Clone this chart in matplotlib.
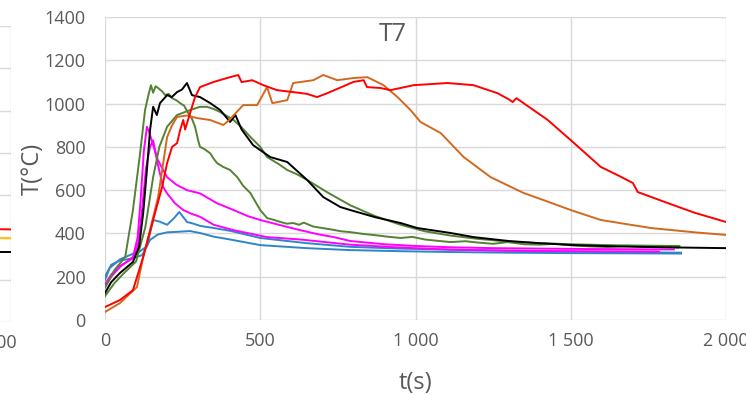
import matplotlib
matplotlib.use('Agg')
import matplotlib.pyplot as plt
from matplotlib.ticker import FuncFormatter

plt.rcParams['font.family'] = ['Open Sans', 'DejaVu Sans']

# thermocouple T7, time in s, temperature in degC
blue_a_t = [0, 15, 48, 80, 113, 135, 155, 175, 200, 222, 239, 255, 264, 285, 306, 350, 403, 500, 650, 790, 950, 1113, 1300, 1500, 1700, 1855]
blue_a_T = [185, 240, 280, 300, 318, 340, 462, 455, 440, 470, 499, 470, 453, 445, 435, 425, 412, 379, 355, 338, 330, 325, 320, 316, 313, 311]

blue_b_t = [0, 20, 48, 90, 120, 145, 170, 200, 240, 274, 306, 350, 403, 500, 650, 790, 950, 1113, 1300, 1500, 1700, 1855]
blue_b_T = [200, 255, 275, 285, 300, 370, 395, 405, 408, 411, 402, 385, 372, 346, 332, 323, 318, 314, 311, 309, 308, 307]

mag_a_t = [0, 20, 48, 90, 105, 115, 125, 135, 142, 150, 170, 200, 230, 264, 306, 360, 414, 460, 500, 560, 629, 690, 737, 790, 900, 1000, 1113, 1250, 1400, 1550, 1700, 1832]
mag_a_T = [152, 200, 245, 291, 380, 560, 780, 893, 870, 831, 740, 660, 625, 600, 585, 540, 508, 480, 462, 440, 415, 395, 383, 365, 350, 342, 336, 332, 330, 328, 327, 326]

mag_b_t = [0, 20, 48, 90, 108, 120, 132, 145, 155, 170, 187, 200, 225, 252, 280, 306, 350, 414, 522, 629, 790, 950, 1113, 1300, 1500, 1650, 1784]
mag_b_T = [165, 210, 250, 285, 360, 520, 700, 800, 830, 720, 615, 585, 540, 508, 490, 477, 440, 415, 383, 372, 348, 335, 325, 320, 318, 317, 316]

black_t = [0, 20, 48, 90, 110, 123, 135, 145, 155, 167, 177, 200, 215, 232, 248, 264, 280, 306, 339, 371, 403, 420, 440, 477, 532, 587, 651, 703, 758, 790, 870, 952, 1006, 1113, 1187, 1300, 1400, 1510, 1650, 1800, 2000]
black_T = [125, 175, 217, 268, 340, 494, 693, 877, 985, 947, 1002, 1039, 1030, 1053, 1065, 1095, 1039, 1030, 1002, 970, 915, 947, 880, 808, 753, 730, 647, 568, 522, 508, 475, 448, 425, 402, 383, 365, 355, 346, 340, 336, 332]

green_a_t = [0, 30, 65, 90, 113, 129, 140, 148, 155, 163, 171, 185, 194, 205, 216, 230, 242, 255, 268, 280, 290, 300, 306, 320, 339, 350, 361, 381, 403, 426, 445, 468, 485, 500, 522, 545, 560, 585, 606, 625, 640, 670, 700, 730, 760, 790, 830, 870, 910, 952, 990, 1030, 1070, 1113, 1160, 1200, 1250, 1297, 1350, 1400, 1450, 1500, 1560, 1619, 1680, 1740, 1800, 1845]
green_a_T = [150, 230, 291, 508, 770, 970, 1040, 1085, 1050, 1080, 1072, 1055, 1039, 1045, 1025, 1015, 1002, 990, 956, 930, 893, 830, 800, 790, 770, 745, 725, 707, 693, 660, 620, 587, 545, 508, 471, 462, 455, 445, 448, 440, 450, 432, 425, 418, 410, 406, 398, 392, 385, 379, 384, 372, 366, 360, 364, 358, 352, 360, 350, 348, 352, 345, 340, 337, 343, 338, 340, 335]

green_b_t = [0, 30, 60, 100, 130, 155, 175, 200, 232, 274, 306, 329, 350, 371, 414, 440, 468, 500, 522, 560, 587, 620, 651, 716, 790, 870, 952, 1030, 1113, 1200, 1300, 1400, 1500, 1650, 1850]
green_b_T = [110, 170, 215, 270, 430, 660, 800, 893, 947, 970, 985, 985, 975, 961, 924, 890, 846, 800, 753, 720, 693, 672, 647, 590, 530, 480, 440, 410, 390, 375, 362, 355, 350, 345, 342]

red_t = [0, 48, 90, 123, 155, 184, 200, 216, 232, 242, 252, 258, 274, 290, 306, 348, 393, 429, 440, 474, 510, 554, 606, 650, 683, 716, 760, 800, 833, 844, 887, 919, 994, 1050, 1103, 1187, 1264, 1300, 1313, 1325, 1371, 1426, 1500, 1597, 1650, 1700, 1716, 1760, 1813, 1900, 2000]
red_T = [60, 92, 138, 291, 462, 615, 725, 800, 817, 877, 924, 880, 956, 1030, 1076, 1099, 1118, 1132, 1099, 1108, 1085, 1062, 1053, 1045, 1030, 1048, 1075, 1100, 1108, 1076, 1072, 1062, 1085, 1090, 1095, 1085, 1048, 1020, 1007, 1025, 979, 924, 831, 707, 670, 633, 591, 568, 540, 495, 453]

orange_t = [0, 48, 103, 123, 145, 171, 200, 216, 232, 264, 296, 339, 381, 400, 445, 490, 522, 539, 587, 606, 671, 703, 748, 800, 845, 897, 942, 984, 1016, 1081, 1155, 1242, 1348, 1420, 1500, 1597, 1758, 1900, 2000]
orange_T = [37, 78, 152, 291, 416, 568, 845, 900, 938, 945, 933, 924, 901, 924, 993, 993, 1076, 1002, 1016, 1095, 1108, 1132, 1108, 1118, 1122, 1085, 1030, 970, 915, 864, 753, 660, 587, 550, 508, 462, 425, 405, 393]

# tail ends of the neighbouring panel
left_t = [1700, 2000]
left_red = [445, 438]
left_yellow = [398, 396]
left_black = [332, 331]

series = [
    (blue_a_t, blue_a_T, '#2e86c9'),
    (blue_b_t, blue_b_T, '#2e86c9'),
    (mag_a_t, mag_a_T, '#ff00ff'),
    (mag_b_t, mag_b_T, '#ff00ff'),
    (green_a_t, green_a_T, '#548235'),
    (green_b_t, green_b_T, '#548235'),
    (black_t, black_T, '#000000'),
    (orange_t, orange_T, '#d2691e'),
    (red_t, red_T, '#ff0000'),
]

W, H = 746, 395
fig = plt.figure(figsize=(W / 100, H / 100), dpi=100)
grey = '#595959'
grid = '#d9d9d9'


def style(ax):
    ax.set_xlim(0, 2000)
    ax.set_ylim(0, 1400)
    ax.set_xticks(range(0, 2001, 500))
    ax.set_yticks(range(0, 1401, 200))
    ax.grid(True, color=grid, lw=1.0)
    ax.set_axisbelow(True)
    for s in ax.spines.values():
        s.set_visible(False)
    ax.tick_params(length=0, colors=grey, labelsize=13)
    ax.tick_params(axis='y', pad=14)
    ax.tick_params(axis='x', pad=9)
    ax.xaxis.set_major_formatter(FuncFormatter(lambda v, p: f'{int(v):,}'.replace(',', ' ')))


# neighbouring panel, mostly off the canvas
axl = fig.add_axes([(11 - 621) / W, (H - 322) / H, 621 / W, 296 / H])
style(axl)
axl.set_yticklabels([])
axl.set_xticklabels([])
axl.annotate('2 000', xy=(2000, 0), xytext=(-17, -12), textcoords='offset pixels',
             ha='center', va='top', fontsize=13, color=grey)
axl.plot(left_t, left_red, color='#ff0000', lw=1.4)
axl.plot(left_t, left_yellow, color='#ffc000', lw=1.4)
axl.plot(left_t, left_black, color='#000000', lw=1.4)

ax = fig.add_axes([105 / W, (H - 320) / H, 621 / W, 303 / H])
style(ax)
for t, T, c in series:
    ax.plot(t, T, color=c, lw=1.4)

ax.text(926, 1321, 'T7', ha='center', va='center', fontsize=18, color=grey)
ax.set_ylabel('T(°C)', fontsize=17, color=grey, labelpad=0)
ax.set_xlabel('t(s)', fontsize=17, color=grey, labelpad=15)

fig.savefig('out.png', dpi=100)
